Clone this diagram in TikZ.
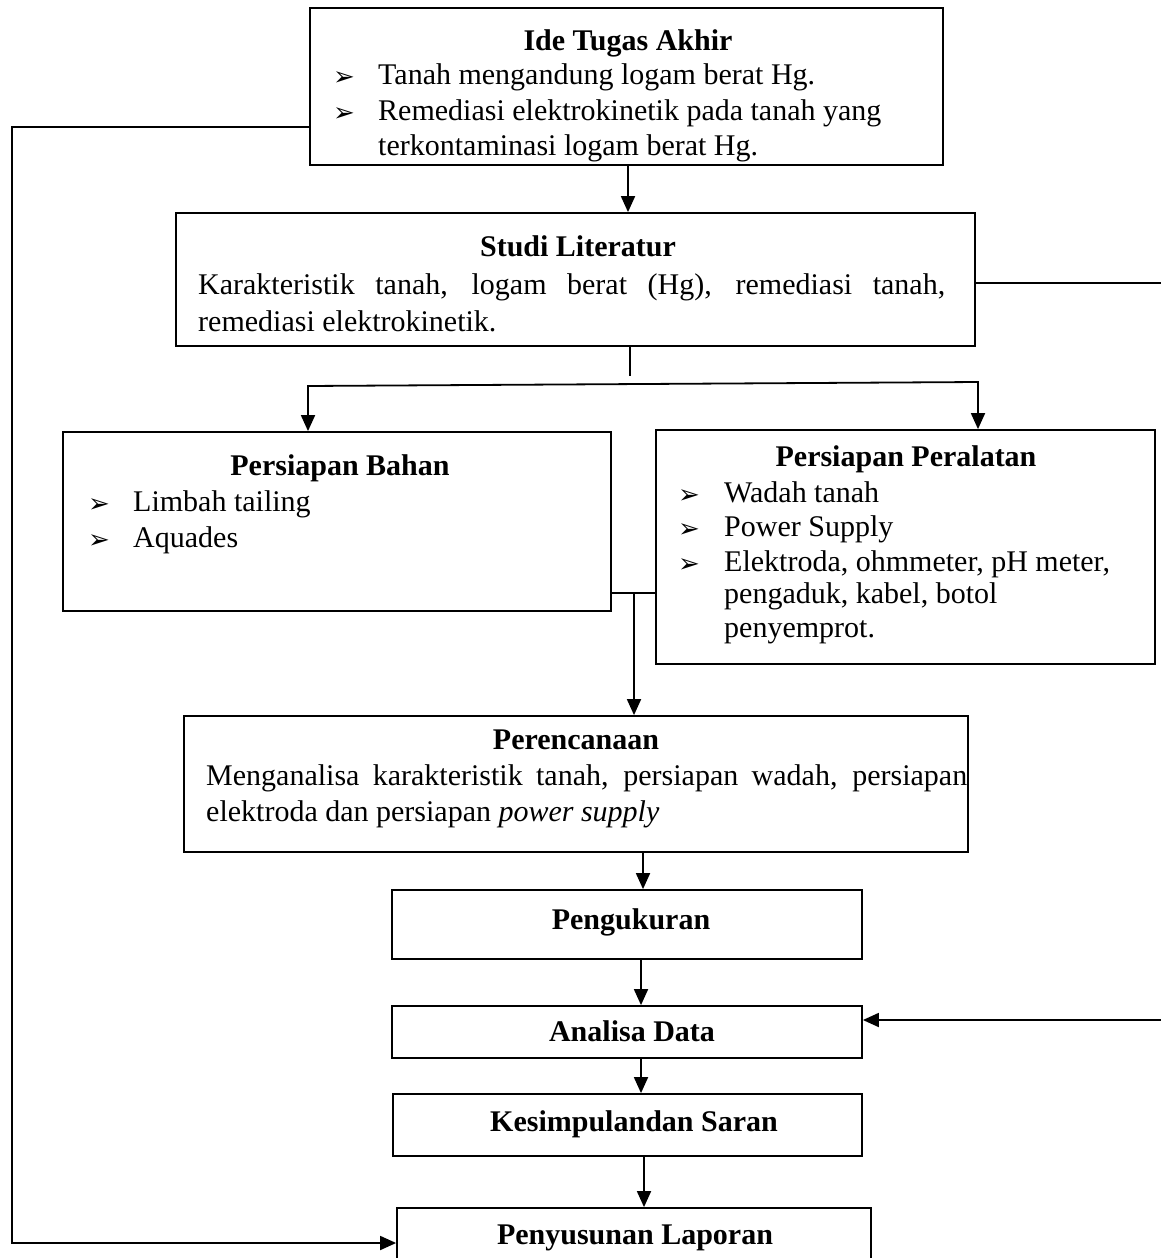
\documentclass[tikz,border=0pt]{standalone}
\usepackage{fontspec}
\setmainfont{Liberation Serif}
\newfontfamily\dingfont{DejaVu Sans}
\usetikzlibrary{arrows.meta,calc}
\tikzset{
 box/.style={draw, line width=1.8pt, rectangle, inner sep=0pt},
 conn/.style={line width=1.8pt},
 arr/.style={conn, -{Triangle[length=16pt,width=14pt]}},
 txt/.style={inner sep=0pt, anchor=base west, font=\fontsize{30}{36}\selectfont},
 ttl/.style={inner sep=0pt, anchor=base, font=\fontsize{30}{36}\selectfont\bfseries},
 bul/.style={inner sep=0pt, anchor=base west, font=\dingfont\fontsize{26}{26}\selectfont},
}
\begin{document}
\begin{tikzpicture}[x=1pt,y=-1pt]
\useasboundingbox (0,0) rectangle (1160,1258);
% boxes
\node[box, minimum width=633, minimum height=157] (ide) at (626.5,86.5) {};
\node[box, minimum width=799, minimum height=133] (studi) at (575.5,279.5) {};
\node[box, minimum width=548, minimum height=179] (bahan) at (337,521.5) {};
\node[box, minimum width=499, minimum height=234] (alat) at (905.5,547) {};
\node[box, minimum width=784, minimum height=136] (rencana) at (576,784) {};
\node[box, minimum width=470, minimum height=69] (ukur) at (627,924.5) {};
\node[box, minimum width=470, minimum height=52] (analisa) at (627,1032) {};
\node[box, minimum width=469, minimum height=62] (simpul) at (627.5,1125) {};
\node[box, minimum width=474, minimum height=54] (lapor) at (634,1235) {};
% Ide Tugas Akhir
\node[ttl] (t1) at (628,50) {Ide Tugas Akhir};
\node[bul] (i1b) at (333,85) {➢};
\node[txt] (i1) at (378,84) {Tanah mengandung logam berat Hg.};
\node[bul] (i2b) at (333,121) {➢};
\node[txt] (i2) at (378,120) {Remediasi elektrokinetik pada tanah yang};
\node[txt] (i3) at (378,155) {terkontaminasi logam berat Hg.};
% Studi Literatur
\node[ttl] (t2) at (578,256) {Studi Literatur};
\node[txt] (s1) at (198,294) {\makebox[747pt][s]{Karakteristik tanah, logam berat (Hg), remediasi tanah,}};
\node[txt] (s2) at (198,331) {remediasi elektrokinetik.};
% Persiapan Bahan
\node[ttl] (t3) at (340,475) {Persiapan Bahan};
\node[bul] (p1b) at (88,512) {➢};
\node[txt] (p1) at (133,511) {Limbah tailing};
\node[bul] (p2b) at (88,548) {➢};
\node[txt] (p2) at (133,547) {Aquades};
% Persiapan Peralatan
\node[ttl] (t4) at (906,466) {Persiapan Peralatan};
\node[bul] (a1b) at (678,503) {➢};
\node[txt] (a1) at (724,502) {Wadah tanah};
\node[bul] (a2b) at (678,537) {➢};
\node[txt] (a2) at (724,536) {Power Supply};
\node[bul] (a3b) at (678,572) {➢};
\node[txt] (a3) at (724,571) {Elektroda, ohmmeter, pH meter,};
\node[txt] (a4) at (724,603) {pengaduk, kabel, botol};
\node[txt] (a5) at (724,637) {penyemprot.};
% Perencanaan
\node[ttl] (t5) at (576,749) {Perencanaan};
\node[txt] (r1) at (206,785) {\makebox[761pt][s]{Menganalisa karakteristik tanah, persiapan wadah, persiapan}};
\node[txt] (r2) at (206,821) {elektroda dan persiapan \textit{power supply}};
% single boxes
\node[ttl] (t6) at (631,929) {Pengukuran};
\node[ttl] (t7) at (632,1041) {Analisa Data};
\node[ttl] (t8) at (634,1131) {Kesimpulandan Saran};
\node[ttl] (t9) at (635,1244) {Penyusunan Laporan};
% connectors
\draw[arr] (ide.south -| 628,0) -- (studi.north -| 628,0);
\draw[arr] (ide.west |- 0,127) -- (12,127) -- (12,1243) -- (lapor.west |- 0,1243);
\draw[arr] (studi.east |- 0,283) -- (1163,283) -- (1163,1020) -- (analisa.east |- 0,1020);
\coordinate (sd) at (630,376);
\draw[conn] (studi.south -| sd) -- (sd);
\coordinate (sl) at (308,386);
\coordinate (sr) at (978,382);
\draw[conn] ($(sl)+(-0.9,0)$) -- ($(sr)+(0.9,0)$);
\draw[arr] (sl) -- (bahan.north -| sl);
\draw[arr] (sr) -- (alat.north -| sr);
\draw[conn] (bahan.east |- 0,593) -- (alat.west |- 0,593);
\coordinate (jn) at (634,593);
\draw[arr] (jn) -- (rencana.north -| jn);
\draw[arr] (rencana.south -| 643,0) -- (ukur.north -| 643,0);
\draw[arr] (ukur.south -| 641,0) -- (analisa.north -| 641,0);
\draw[arr] (analisa.south -| 641,0) -- (simpul.north -| 641,0);
\draw[arr] (simpul.south -| 644,0) -- (lapor.north -| 644,0);
\end{tikzpicture}
\end{document}
